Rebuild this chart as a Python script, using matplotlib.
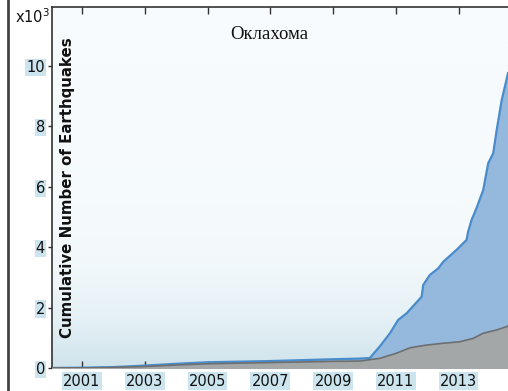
import numpy as np
import matplotlib.pyplot as plt
from matplotlib.colors import LinearSegmentedColormap

# cumulative counts, thousands
years_all = [2000.0, 2001.0, 2002.0, 2003.0, 2004.0, 2005.0, 2006.0, 2007.0, 2008.0,
             2009.0, 2009.8, 2010.17, 2010.49, 2010.81, 2011.07, 2011.34, 2011.82,
             2011.87, 2012.08, 2012.35, 2012.51, 2012.93, 2013.25, 2013.30, 2013.41,
             2013.57, 2013.78, 2013.94, 2014.10, 2014.21, 2014.37, 2014.47, 2014.57]
total = [0.0, 0.01, 0.03, 0.08, 0.14, 0.19, 0.21, 0.23, 0.26,
         0.29, 0.31, 0.33, 0.72, 1.15, 1.59, 1.81, 2.36,
         2.75, 3.08, 3.30, 3.52, 3.91, 4.24, 4.51, 4.90,
         5.30, 5.89, 6.78, 7.11, 7.88, 8.87, 9.31, 9.76]

years_sub = [2000.0, 2001.0, 2002.0, 2003.0, 2004.0, 2005.0, 2006.0, 2007.0, 2008.0,
             2009.0, 2009.85, 2010.2, 2010.49, 2011.02, 2011.45, 2011.98, 2012.51,
             2013.04, 2013.46, 2013.78, 2014.21, 2014.53, 2014.57]
subset = [0.0, 0.0, 0.02, 0.05, 0.10, 0.14, 0.16, 0.18, 0.20,
          0.22, 0.23, 0.28, 0.32, 0.49, 0.67, 0.76, 0.82,
          0.87, 0.98, 1.15, 1.26, 1.37, 1.40]

xticks = [2001, 2003, 2005, 2007, 2009, 2011, 2013]
yticks = [0, 2, 4, 6, 8, 10]

fig = plt.figure(figsize=(5.08, 3.91), dpi=100)
fig.patch.set_facecolor('white')
ax = fig.add_axes([52/508, 1-368/391, 1-52/508, (368-7)/391])

x0, x1 = 2000.045, 2014.57
y0, y1 = 0, 11.95

# background: white over most of the height, pale blue near the bottom
cmap = LinearSegmentedColormap.from_list('bg', ['#cfe3eb', '#e3f0f5', '#f3f9fb', '#f7fbfd'])
grad = 1 - (1 - np.linspace(0, 1, 256)) ** 3
ax.imshow(grad[:, None], aspect='auto', cmap=cmap, origin='lower',
          extent=[x0, x1, y0, y1], zorder=0)

ax.fill_between(years_all, total, color='#95b9dd', zorder=1)
ax.plot(years_all, total, color='#4a8ccb', lw=1.6, zorder=2)
ax.fill_between(years_sub, subset, color='#a4a7a8', zorder=3)
ax.plot(years_sub, subset, color='#6c6f70', lw=1.2, zorder=4)

ax.set_xlim(x0, x1)
ax.set_ylim(y0, y1)

ax.set_xticks(xticks)
ax.set_yticks(yticks)
ax.tick_params(axis='x', direction='in', top=True, length=5, width=1, colors='#333333',
               labelcolor='#111111', labelsize=10.5, pad=4)
ax.tick_params(axis='y', direction='out', length=3, width=1, colors='#333333',
               labelcolor='#111111', labelsize=10.5, pad=2)
for lab in ax.get_xticklabels() + ax.get_yticklabels():
    lab.set_bbox(dict(facecolor='#cbe4ee', edgecolor='none', pad=0.8))

for side in ['left', 'bottom', 'top']:
    ax.spines[side].set_color('#333333')
    ax.spines[side].set_linewidth(1.2)
ax.spines['right'].set_visible(False)

ax.text(0.035, 0.5, 'Cumulative Number of Earthquakes', transform=ax.transAxes,
        rotation=90, ha='center', va='center', fontsize=10.8, fontweight='bold',
        color='#111111', zorder=5)
ax.text(0.476, 0.925, 'Оклахома', transform=ax.transAxes, ha='center', va='center',
        fontsize=13.5, family='Liberation Serif', color='#111111', zorder=5)
fig.text(15/508, 1-17/391, r'x10$^3$', ha='left', va='center', fontsize=10.5,
         color='#111111')

# frame line down the left margin
fig.add_artist(plt.Line2D([8/508, 8/508], [0, 1], color='#444444', lw=2,
                          transform=fig.transFigure))

fig.savefig('out.png', dpi=100)
